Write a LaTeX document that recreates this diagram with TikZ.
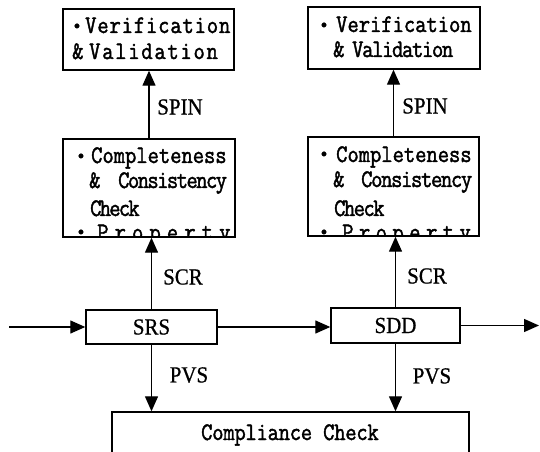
\documentclass[tikz,border=0pt]{standalone}
\usepackage{fontspec}
\usepackage{graphicx}
\usetikzlibrary{arrows.meta}
\newfontfamily\monof[FakeBold=1.8]{Latin Modern Mono}
\newfontfamily\labf[FakeBold=0.8]{Liberation Serif}
\newcommand\tl[5]{\node[txt,anchor=base west] (#1) at (#2,#3) {\scalebox{1}[1.15]{\addfontfeature{LetterSpace=#4}#5}};}
\newcommand\bl[3]{\node[txt,anchor=center] (#1) at (#2,#3) {\fontsize{18}{18}\selectfont •};}
\newcommand\lb[1]{\scalebox{1}[1.1]{#1}}
\begin{document}
\begin{tikzpicture}[x=1bp,y=-1bp,
  box/.style={draw, line width=1.4bp, inner sep=0pt},
  arr/.style={line width=1.3bp, -{Triangle[length=15bp,width=13bp]}},
  txt/.style={inner sep=0pt, font=\monof\fontsize{22}{22}\selectfont},
  lab/.style={inner sep=0pt, font=\labf\fontsize{21}{21}\selectfont}]
\useasboundingbox (0,0) rectangle (540,452);
\clip (0,0) rectangle (540,452);
% boxes
\node[box, minimum width=171bp, minimum height=61bp] (vv1) at (148.5,39.5) {};
\node[box, minimum width=172bp, minimum height=62bp] (vv2) at (394,38) {};
\node[box, minimum width=172bp, minimum height=98bp] (cc1) at (149,188) {};
\node[box, minimum width=171bp, minimum height=99bp] (cc2) at (393.5,186.5) {};
\node[box, lab, minimum width=131bp, minimum height=34bp] (srs) at (151.5,327) {\lb{SRS}};
\node[box, lab, minimum width=129bp, minimum height=35bp] (sdd) at (395.5,325.5) {\lb{SDD}};
\node[box, minimum width=357bp, minimum height=50bp] (comp) at (290.5,437) {};
% texts left column
\bl{vv1b}{77}{27}
\tl{vv1a}{85}{33}{4}{Verification}
\tl{vv1c}{72}{59}{0}{\&}
\tl{vv1d}{89}{59}{8}{Validation}
\bl{cc1b}{81}{157}
\tl{cc1a}{91}{163}{0}{Completeness}
\tl{cc1c}{89}{188}{0}{\&}
\tl{cc1d}{118}{188}{-7}{Consistency}
\tl{cc1e}{90}{216}{-8}{Check}
% texts right column
\bl{vv2b}{324}{26}
\tl{vv2a}{336}{32}{0}{Verification}
\tl{vv2c}{333}{57}{0}{\&}
\tl{vv2d}{352}{57}{-6}{Validation}
\bl{cc2b}{324}{155}
\tl{cc2a}{336}{162}{0}{Completeness}
\tl{cc2c}{333}{187}{0}{\&}
\tl{cc2d}{361}{187}{-6}{Consistency}
\tl{cc2e}{334}{216}{-7}{Check}
% clipped Property lines
\begin{scope}
  \clip (cc1.north west) rectangle (cc1.south east);
  \bl{cc1f}{81}{233}
  \tl{cc1g}{97}{240}{28}{Property}
\end{scope}
\begin{scope}
  \clip (cc2.north west) rectangle (cc2.south east);
  \bl{cc2f}{324}{233}
  \tl{cc2g}{342}{240}{25}{Property}
\end{scope}
\node[txt, anchor=base west] (compt) at (201,440) {\scalebox{1}[1.15]{\addfontfeature{LetterSpace=-1}Compliance Check}};
% labels
\node[lab] (spin1) at (180,107) {\lb{SPIN}};
\node[lab] (spin2) at (425,106) {\lb{SPIN}};
\node[lab] (scr1) at (183,277) {\lb{SCR}};
\node[lab] (scr2) at (427,276) {\lb{SCR}};
\node[lab] (pvs1) at (189,375) {\lb{PVS}};
\node[lab] (pvs2) at (432,376) {\lb{PVS}};
% connectors
\coordinate (in) at (9,327);
\coordinate (out) at (539,324);
\draw[arr] (in) -- (srs.west);
\draw[arr] (srs.east) -- (srs.east -| sdd.west);
\draw[arr] (sdd.east) -- (sdd.east -| out);
\draw[arr] (srs.north) -- (srs.north |- cc1.south);
\draw[arr] (sdd.north) -- (sdd.north |- cc2.south);
\draw[arr] (cc1.north) -- (cc1.north |- vv1.south);
\draw[arr] (cc2.north) -- (cc2.north |- vv2.south);
\draw[arr] (srs.south) -- (srs.south |- comp.north);
\draw[arr] (sdd.south) -- (sdd.south |- comp.north);
\end{tikzpicture}
\end{document}
